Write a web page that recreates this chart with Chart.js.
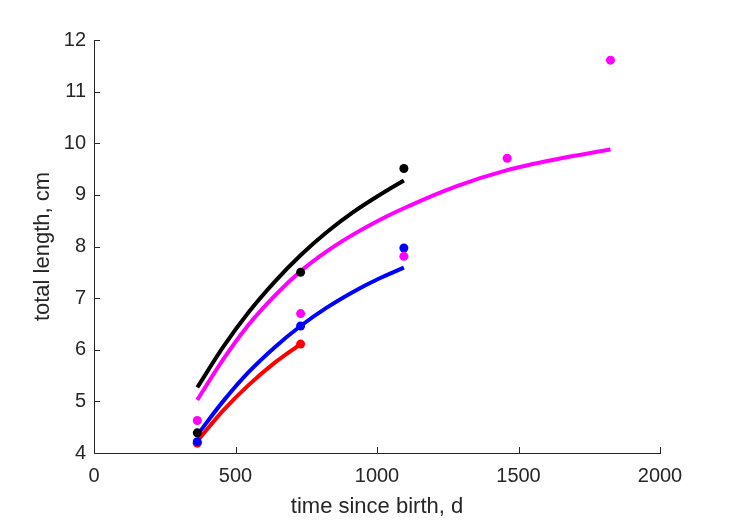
<!DOCTYPE html>
<html>
<head>
<meta charset="utf-8">
<script src="https://cdn.jsdelivr.net/npm/chart.js@4.4.1/dist/chart.umd.min.js"></script>
<style>
  html, body { margin: 0; padding: 0; background: #fff; }
</style>
</head>
<body>
<canvas id="growth" width="729" height="521"></canvas>
<script>
// observed mean lengths at each age (days since birth)
const ageDays = [365, 730, 1095, 1460, 1825];
const redObs = [4.19, 6.11];
const blueObs = [4.22, 6.46, 7.97];
const blackObs = [4.39, 7.50, 9.51];
const magentaObs = [4.63, 6.70, 7.81, 9.71, 11.61];

// fitted growth curves
const fitDays = [365, 456, 547, 639, 730, 821, 912, 1004, 1095, 1277, 1460, 1642, 1825];
const redFit = [4.23, 4.82, 5.32, 5.75, 6.11];
const blueFit = [4.35, 5.00, 5.57, 6.05, 6.46, 6.81, 7.11, 7.37, 7.59];
const blackFit = [5.27, 6.05, 6.73, 7.32, 7.83, 8.27, 8.65, 8.98, 9.28];
const magentaFit = [5.03, 5.81, 6.49, 7.05, 7.52, 7.90, 8.22, 8.50, 8.74, 9.16, 9.48, 9.70, 9.88];

const xTicks = [0, 500, 1000, 1500, 2000];
const yTicks = [4, 5, 6, 7, 8, 9, 10, 11, 12];

const axisColor = '#262626';

function pairs(xs, ys) {
  return ys.map((y, i) => ({ x: xs[i], y: y }));
}

function obsSet(ys, color, order) {
  return {
    data: pairs(ageDays, ys),
    showLine: false,
    pointRadius: 4.5,
    pointHoverRadius: 4.5,
    pointBorderWidth: 0,
    pointBackgroundColor: color,
    borderColor: color,
    order: order
  };
}

function fitSet(ys, color, order) {
  return {
    data: pairs(fitDays, ys),
    showLine: true,
    pointRadius: 0,
    borderColor: color,
    borderWidth: 4,
    cubicInterpolationMode: 'monotone',
    order: order
  };
}

// MATLAB style ticks pointing into the plot
const inwardTicks = {
  id: 'inwardTicks',
  afterDatasetsDraw(chart) {
    const { ctx, chartArea, scales: { x, y } } = chart;
    ctx.save();
    ctx.strokeStyle = axisColor;
    ctx.lineWidth = 1;
    ctx.beginPath();
    xTicks.forEach(v => {
      const px = Math.round(x.getPixelForValue(v)) + 0.5;
      ctx.moveTo(px, chartArea.bottom);
      ctx.lineTo(px, chartArea.bottom - 6);
    });
    yTicks.forEach(v => {
      const py = Math.round(y.getPixelForValue(v)) + 0.5;
      ctx.moveTo(chartArea.left, py);
      ctx.lineTo(chartArea.left + 6, py);
    });
    ctx.stroke();
    ctx.restore();
  }
};

new Chart(document.getElementById('growth'), {
  type: 'scatter',
  data: {
    datasets: [
      obsSet(magentaObs, '#ff00ff', 0),
      obsSet(blackObs, '#000000', 1),
      obsSet(blueObs, '#0000ff', 2),
      obsSet(redObs, '#ff0000', 3),
      fitSet(magentaFit, '#ff00ff', 10),
      fitSet(blackFit, '#000000', 11),
      fitSet(blueFit, '#0000ff', 12),
      fitSet(redFit, '#ff0000', 13)
    ]
  },
  options: {
    responsive: false,
    animation: false,
    devicePixelRatio: 1,
    layout: { padding: { top: 40, right: 69, left: 0, bottom: 0 } },
    plugins: { legend: { display: false }, tooltip: { enabled: false } },
    scales: {
      x: {
        type: 'linear',
        min: 0,
        max: 2000,
        afterBuildTicks: s => { s.ticks = xTicks.map(v => ({ value: v })); },
        afterFit: s => { s.height = 68; },
        grid: { display: false, drawTicks: false },
        border: { display: true, color: axisColor, width: 1 },
        ticks: {
          color: axisColor,
          padding: 11,
          font: { family: 'Liberation Sans', size: 20 },
          callback: v => String(v)
        },
        title: {
          display: true,
          text: 'time since birth, d',
          color: axisColor,
          font: { family: 'Liberation Sans', size: 22 },
          padding: { top: 0, bottom: 1 }
        }
      },
      y: {
        type: 'linear',
        min: 4,
        max: 12,
        afterBuildTicks: s => { s.ticks = yTicks.map(v => ({ value: v })); },
        afterFit: s => { s.width = 94; },
        grid: { display: false, drawTicks: false },
        border: { display: true, color: axisColor, width: 1 },
        ticks: {
          color: axisColor,
          padding: 8,
          font: { family: 'Liberation Sans', size: 20 },
          callback: v => String(v)
        },
        title: {
          display: true,
          text: 'total length, cm',
          color: axisColor,
          font: { family: 'Liberation Sans', size: 22 },
          padding: { top: 30, bottom: 0 }
        }
      }
    }
  },
  plugins: [inwardTicks]
});
</script>
</body>
</html>
